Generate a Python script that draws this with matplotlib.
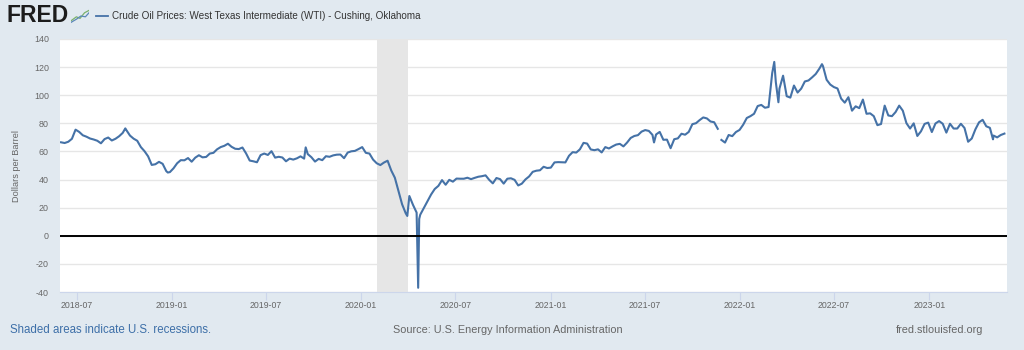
import numpy as np
import pandas as pd
import matplotlib
matplotlib.use("Agg")
import matplotlib.pyplot as plt
import matplotlib.dates as mdates

plt.rcParams['font.family'] = ['Liberation Sans', 'DejaVu Sans']
plt.rcParams['axes.unicode_minus'] = False

# weekly (Friday) WTI spot prices, $/bbl
wti_2018 = [66.5, 66.0, 66.9, 69.0, 75.5,
            73.9, 71.5, 70.5, 69.2,
            68.5, 67.6, 65.8, 68.8, 69.9,
            67.8, 69.0, 70.8, 73.2,
            75.2, 71.3, 69.1, 67.6,
            63.1, 60.2, 56.5, 50.4, 50.9,
            52.6, 51.2, 46.0, 45.3]
wti_2019 = [48.0, 51.6, 53.8, 53.7,
            55.3, 52.7, 55.6, 57.3,
            55.8, 56.1, 58.5, 59.0, 61.5,
            63.1, 64.0, 65.5, 63.3,
            61.9, 61.7, 62.8, 58.6, 53.5,
            53.0, 52.3, 57.4, 58.5,
            57.5, 60.2, 55.6, 56.2,
            55.7, 53.0, 54.9, 54.2, 55.1,
            56.5, 54.9, 58.1, 55.9,
            52.8, 54.7, 53.8, 56.6,
            56.2, 57.2, 57.7, 57.8, 55.2,
            59.2, 60.1, 60.4, 61.7]
wti_2020 = [63.1, 59.0, 58.5, 54.2, 51.6,
            50.3, 52.1, 53.4, 46.5,
            41.3, 31.7, 22.4, 16.0,
            28.3, 22.0, 16.5, 15.0,
            19.8, 24.7, 29.4, 33.3, 35.5,
            39.6, 36.3, 39.8, 38.5,
            40.7, 40.6, 40.6, 41.3, 40.3,
            41.2, 42.0, 42.4, 43.0,
            39.8, 37.3, 41.1, 40.3,
            37.1, 40.6, 40.9, 39.8, 35.8,
            37.1, 40.1, 42.2, 45.5,
            46.3, 46.6, 49.1, 48.2]
wti_2021 = [48.5, 52.2, 52.4, 52.3, 52.2,
            56.9, 59.5, 59.2, 61.5,
            66.1, 65.6, 61.4, 60.9,
            61.5, 59.3, 63.1, 62.1, 63.6,
            64.9, 65.4, 63.6, 66.3,
            69.6, 71.0, 71.6, 74.1,
            75.2, 74.6, 71.8, 72.1, 73.9,
            68.3, 68.4, 62.3, 68.7,
            69.3, 72.6, 71.9, 73.9,
            79.4, 80.1, 82.3, 84.2, 83.5,
            81.3, 80.8, 76.1, 68.2,
            66.3, 71.7, 70.9, 73.8, 75.3]
wti_2022 = [79.0, 83.8, 85.1, 86.8,
            92.3, 93.1, 91.1, 91.6,
            115.7, 109.3, 104.7, 113.9,
            99.3, 98.3, 106.9, 101.9, 104.7,
            109.8, 110.5, 112.7, 115.1,
            118.9, 120.7, 111.0, 107.6,
            105.8, 104.8, 97.6, 94.7, 98.6,
            89.0, 92.1, 90.8, 96.9,
            86.8, 87.1, 85.1, 78.7, 79.5,
            92.6, 85.6, 85.1, 88.0,
            92.6, 89.0, 80.1, 76.3,
            80.0, 71.0, 74.3, 79.6, 80.5]
wti_2023 = [73.8, 79.9, 81.6, 79.7,
            73.4, 79.7, 76.3, 76.3,
            79.7, 76.7, 66.9, 69.2, 75.7,
            80.7, 82.5, 77.9, 76.8,
            71.3, 70.0, 71.7, 72.7]
year_starts = ['2018-06-01', '2019-01-04', '2020-01-03', '2021-01-01', '2022-01-07', '2023-01-06']

# daily extremes between the weekly points (nan = missing day)
extra_dates = ['2018-10-03', '2018-12-24', '2019-09-16', '2020-03-30', '2020-04-20', '2020-04-22',
               '2021-07-19', '2021-11-25', '2022-03-08', '2022-03-16', '2022-06-08', '2023-05-04']
extra_values = [76.4, 45.0, 62.9, 14.1, -37.0, 12.0,
                66.4, np.nan, 123.7, 95.0, 122.1, 68.6]

recession = ('2020-02-01', '2020-04-01')
yticks = list(range(-40, 141, 20))
xticks = ['2018-07-01', '2019-01-01', '2019-07-01', '2020-01-01', '2020-07-01',
          '2021-01-01', '2021-07-01', '2022-01-01', '2022-07-01', '2023-01-01']

parts = []
for start, vals in zip(year_starts, [wti_2018, wti_2019, wti_2020, wti_2021, wti_2022, wti_2023]):
    parts.append(pd.Series(vals, index=pd.date_range(start, periods=len(vals), freq='W-FRI')))
parts.append(pd.Series(extra_values, index=pd.to_datetime(extra_dates)))
wti = pd.concat(parts).sort_index()

BG = '#e1e9f0'
GREY = '#666666'
fig = plt.figure(figsize=(10.24, 3.5), dpi=100, facecolor=BG)
ax = fig.add_axes([60 / 1024, 58 / 350, 947 / 1024, 253 / 350])
ax.set_facecolor('white')

ax.axvspan(pd.Timestamp(recession[0]), pd.Timestamp(recession[1]), color='#e6e6e6', lw=0, zorder=1)
ax.plot(wti.index, wti.values, color='#4572a7', lw=1.5, zorder=3)
ax.axhline(0, color='black', lw=1.4, zorder=4)

ax.set_ylim(-40, 140)
ax.set_xlim(pd.Timestamp('2018-05-30'), pd.Timestamp('2023-05-31'))
ax.set_yticks(yticks)
ax.set_xticks(pd.to_datetime(xticks))
ax.xaxis.set_major_formatter(mdates.DateFormatter('%Y-%m'))
ax.grid(axis='y', color='#e6e6e6', lw=1, zorder=0)
ax.set_axisbelow(True)
for s in ['top', 'right', 'left']:
    ax.spines[s].set_visible(False)
ax.spines['bottom'].set_color('#ccd6eb')
ax.tick_params(axis='y', length=0, pad=8, labelsize=6.4, labelcolor=GREY)
ax.tick_params(axis='x', length=5.5, width=0.8, color='#ccd6eb', pad=1, labelsize=6.3, labelcolor=GREY)
ax.set_ylabel('Dollars per Barrel', fontsize=6.6, color=GREY, labelpad=9)

# header
fig.text(7 / 1024, 1 - 16 / 350, 'FRED', fontsize=16.5, fontweight='bold', color='#1c1c1c', va='center')
icon = fig.add_axes([71 / 1024, 1 - 24 / 350, 18 / 1024, 16 / 350])
icon.set_facecolor('#d7e3ec')
icon.plot([0, 0.3, 0.5, 0.75, 1], [0.2, 0.45, 0.35, 0.7, 0.85], color='#7bb26c', lw=0.9)
icon.plot([0, 0.3, 0.55, 0.8, 1], [0.1, 0.3, 0.5, 0.45, 0.7], color='#5b87b8', lw=0.9)
icon.set_xlim(0, 1)
icon.set_ylim(0, 1)
icon.axis('off')
fig.add_artist(plt.Line2D([96 / 1024, 108 / 1024], [1 - 16 / 350] * 2, color='#4572a7', lw=1.3))
fig.text(112 / 1024, 1 - 16 / 350, 'Crude Oil Prices: West Texas Intermediate (WTI) - Cushing, Oklahoma',
         fontsize=7.1, color='#333333', va='center')

# footer
fig.text(10 / 1024, 1 - 330 / 350, 'Shaded areas indicate U.S. recessions.', fontsize=8.3, color='#3d6fa8', va='center')
fig.text(508 / 1024, 1 - 330 / 350, 'Source: U.S. Energy Information Administration', fontsize=7.8,
         color=GREY, va='center', ha='center')
fig.text(983 / 1024, 1 - 330 / 350, 'fred.stlouisfed.org', fontsize=7.8, color=GREY, va='center', ha='right')

fig.savefig('out.png', dpi=100, facecolor=BG)
